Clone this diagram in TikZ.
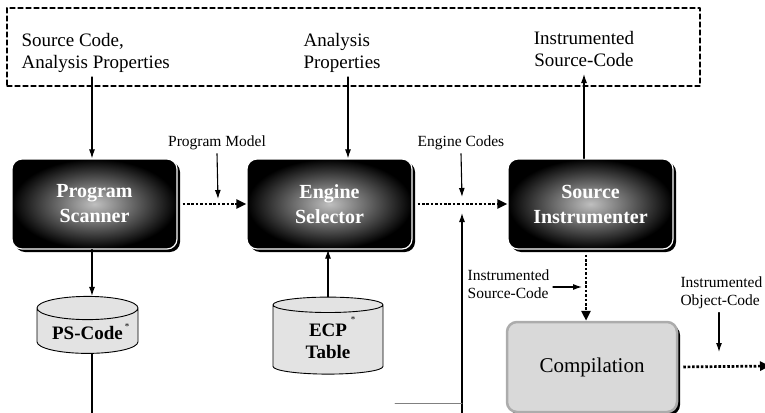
\documentclass[tikz,border=0pt]{standalone}
\usepackage{fontspec}
\setmainfont{Liberation Serif}
\usetikzlibrary{arrows.meta,shapes.geometric,shadows}

\begin{document}
\begin{tikzpicture}[x=1pt,y=-1pt,line cap=round,line join=round,
  engine/.style={rounded corners=10pt,minimum width=165pt,minimum height=90pt,
    inner color=black!25,outer color=black,draw=white,line width=1.2pt,
    drop shadow={shadow xshift=3pt,shadow yshift=-3pt,fill=black,opacity=1},
    text=white,font=\fontsize{20}{25}\selectfont\bfseries,align=center},
  compile/.style={rounded corners=10pt,minimum width=170pt,minimum height=90pt,
    fill=gray!30,draw=gray!65,line width=2.5pt,
    drop shadow={shadow xshift=3pt,shadow yshift=-3pt,fill=black,opacity=1},
    font=\fontsize{21}{25}\selectfont},
  store/.style={cylinder,shape border rotate=90,aspect=0.3,draw,line width=0.9pt,
    fill=gray!22,align=center,font=\fontsize{19}{22}\selectfont\bfseries},
  flow/.style={line width=1.1pt,-{Latex[length=9pt,width=6pt]}},
  dots/.style={line width=2.7pt,dash pattern=on 2.6pt off 1.8pt,line cap=butt,
    -{Triangle[length=10pt,width=9pt]}},
  biglabel/.style={font=\fontsize{19}{22}\selectfont,align=left},
  smalllabel/.style={font=\fontsize{15.5}{18}\selectfont,align=left}]
  \clip (0,0) rectangle (765,412);
  % environment
  \node[draw,line width=1.2pt,dash pattern=on 5pt off 3pt,minimum width=693pt,
    minimum height=78pt] (env) at (353.5,47) {};
  \node[biglabel,anchor=west] (srcin) at (18,53) {Source Code,\\Analysis Properties};
  \node[biglabel,anchor=west] (propin) at (300,53) {Analysis\\Properties};
  \node[biglabel,align=center] (instout) at (584,49) {Instrumented\\Source-Code};
  % tool chain
  \node[engine] (scan) at (94.5,204) {Program\\Scanner};
  \node[engine] (sel) at (329.5,204) {Engine\\Selector};
  \node[engine] (instr) at (590.5,204) {Source\\Instrumenter};
  \node[compile] (comp) at (592,367) {Compilation};
  \node[store,minimum width=101pt,minimum height=57pt] (ps) at (87.5,333) {PS-Code};
  \node[store,minimum width=110pt,minimum height=77pt] (ecp) at (328,341) {ECP\\Table};
  \node[font=\small] (psstar) at (127,327) {*};
  \node[font=\small] (ecpstar) at (353,320) {*};
  % labels
  \node[smalllabel] (pm) at (217,143) {Program Model};
  \node[smalllabel] (ec) at (461,143) {Engine Codes};
  \node[smalllabel,anchor=east] (isc) at (553,284) {Instrumented\\Source-Code};
  \node[smalllabel,anchor=west] (ioc) at (677,293) {Instrumented\\Object-Code};
  \coordinate (A) at (92,77);
  \coordinate (B) at (348,77);
  \coordinate (C) at (584,74);
  \coordinate (D) at (586,0);
  \coordinate (PM) at (218,199);
  \coordinate (EC) at (462,197);
  \coordinate (FB) at (462,413);
  \coordinate (FBtip) at (462,213);
  \coordinate (F) at (395,403);
  \coordinate (PSB) at (92,413);
  \coordinate (IS) at (582,287);
  \coordinate (IO) at (719,352);
  \coordinate (OUT) at (770,366);
  % connectors
  \draw[flow] (A) -- (A |- scan.north);
  \draw[flow] (B) -- (B |- sel.north);
  \draw[flow] (C |- instr.north) -- (C);
  \draw[dots,shorten <=5pt] (scan.east) -- (sel.west);
  \draw[dots,shorten <=5pt] (sel.east) -- (instr.west);
  \draw[flow] (pm.south) -- (PM);
  \draw[flow] (ec.south) -- (EC);
  \draw[flow] (FB) -- (FBtip);
  \draw[gray,line width=0.8pt] (F) -- (F -| FB);
  \draw[flow] (scan.south -| A) -- (ps.north -| A);
  \draw[line width=1.1pt] (ps.south -| A) -- (PSB);
  \draw[flow] (ecp.north) -- (sel.south -| ecp.north);
  \draw[dots,shorten <=5pt] (instr.south -| D) -- (comp.north -| D);
  \draw[flow] ([yshift=-3pt]isc.east) -- (IS);
  \draw[dots,shorten <=5pt] (comp.east) -- (OUT);
  \draw[flow] (IO |- ioc.south) -- (IO);
\end{tikzpicture}
\end{document}
